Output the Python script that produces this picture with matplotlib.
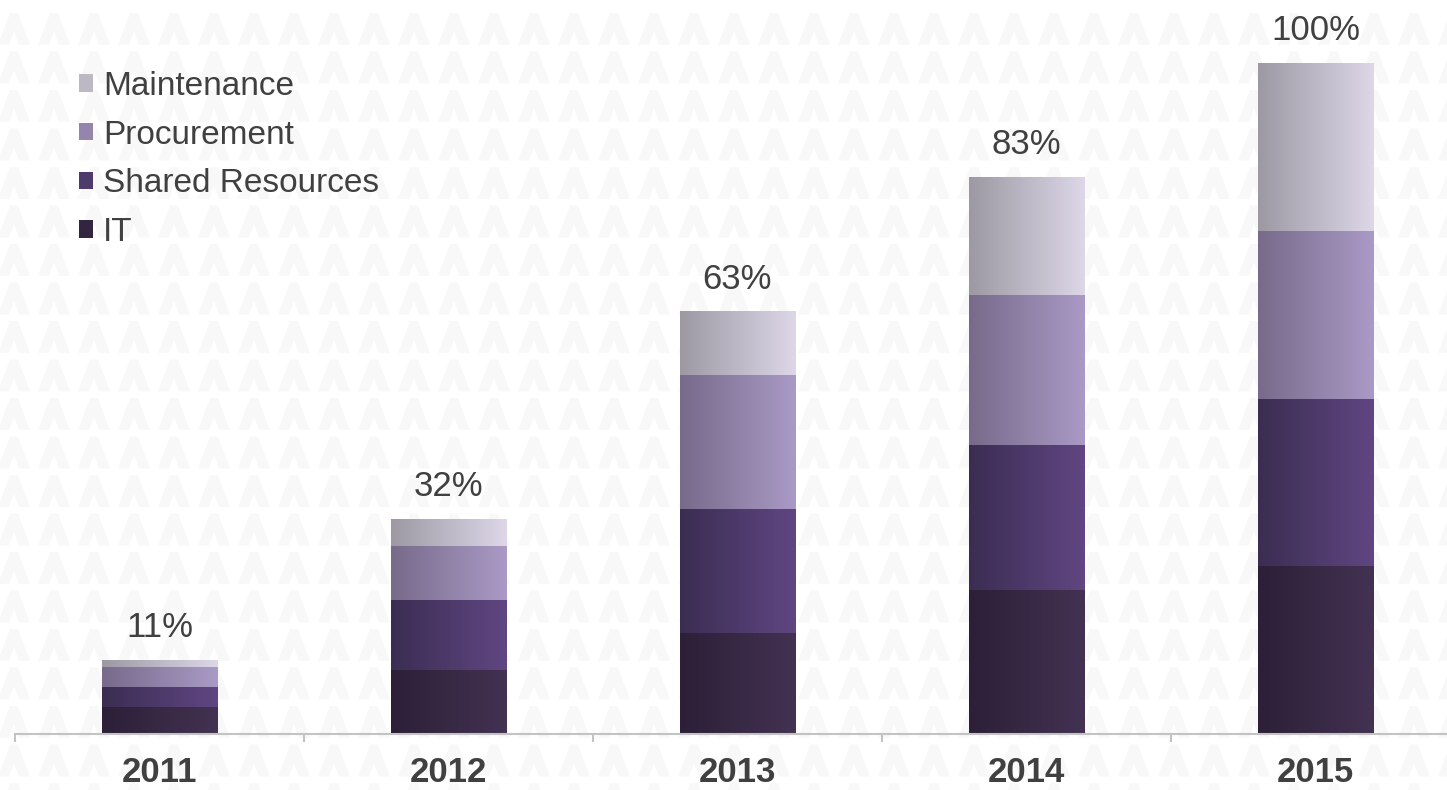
import matplotlib.pyplot as plt
import numpy as np
from matplotlib.colors import LinearSegmentedColormap
from matplotlib.patches import Patch, Polygon
from matplotlib.collections import PatchCollection

plt.rcParams['font.family'] = ['Liberation Sans', 'DejaVu Sans']

years = ["2011", "2012", "2013", "2014", "2015"]
it = [4, 9.5, 15, 21.5, 25]
shared = [3, 10.5, 18.5, 21.5, 25]
procurement = [3, 8, 20, 22.5, 25]
maintenance = [1, 4, 9.5, 17.5, 25]

series = [("IT", it), ("Shared Resources", shared),
          ("Procurement", procurement), ("Maintenance", maintenance)]
# left -> right shading for each segment
shades = {
    "IT": ("#2c1f37", "#433252"),
    "Shared Resources": ("#3b2d52", "#604682"),
    "Procurement": ("#776a8a", "#aa9ac6"),
    "Maintenance": ("#9c99a3", "#ddd7e8"),
}
legend_cols = {
    "IT": "#33253f",
    "Shared Resources": "#4f3a6c",
    "Procurement": "#9585ac",
    "Maintenance": "#bdb9c4",
}

fig = plt.figure(figsize=(14.47, 7.90), dpi=100)

# faint chevron wallpaper behind everything
bg = fig.add_axes([0, 0, 1, 1], zorder=-1)
bg.set_xlim(0, 1447)
bg.set_ylim(790, 0)
bg.axis("off")
shape = np.array([[0, 0], [0.38, 1], [0.62, 1], [1, 0], [0.66, 0],
                  [0.5, 0.42], [0.34, 0]])
polys = []
for row in range(21):
    for col in range(37):
        x0 = col * 40 - 2
        y0 = row * 38.5 + 45
        pts = np.column_stack([x0 + shape[:, 0] * 32, y0 - shape[:, 1] * 32])
        polys.append(Polygon(pts))
bg.add_collection(PatchCollection(polys, facecolor="#f8f8f8", edgecolor="none"))

ax = fig.add_axes([15 / 1447, 56 / 790, 1445 / 1447, 734 / 790])
ax.patch.set_alpha(0)

x = np.arange(len(years))
width = 0.4
bottom = np.zeros(len(years))
grad = np.linspace(0, 1, 256).reshape(1, -1)
for name, vals in series:
    cmap = LinearSegmentedColormap.from_list(name, shades[name])
    bars = ax.bar(x, vals, width, bottom=bottom, facecolor="none",
                  edgecolor="none", label=name)
    for b in bars:
        x0, y0 = b.get_x(), b.get_y()
        im = ax.imshow(grad, cmap=cmap, aspect="auto", zorder=2,
                       extent=[x0, x0 + b.get_width(), y0, y0 + b.get_height()])
        im.set_clip_path(b)
    bottom += np.array(vals)

totals = bottom
for xi, t in zip(x, totals):
    ax.text(xi, t + 3.4, f"{t:.0f}%", ha="center", va="baseline",
            fontsize=25, color="#404040")

ax.set_xlim(-0.5, len(years) - 0.5)
ax.set_ylim(0, 109.4)

for s in ["top", "right", "left"]:
    ax.spines[s].set_visible(False)
ax.spines["bottom"].set_color("#c3c3c3")
ax.spines["bottom"].set_linewidth(1.5)
ax.set_yticks([])
ax.set_xticks(x)
ax.set_xticklabels(years, fontsize=25, fontweight="bold", color="#404040")
ax.tick_params(axis="x", which="major", length=0, pad=16)
ax.set_xticks(np.arange(-0.5, len(years)), minor=True)
ax.tick_params(axis="x", which="minor", length=6, width=1.5, color="#c3c3c3")

handles = [Patch(facecolor=legend_cols[n], label=n) for n, _ in reversed(series)]
leg = ax.legend(handles=handles, loc="upper left", bbox_to_anchor=(79 / 1447, 1 - 71 / 790),
                bbox_transform=fig.transFigure, frameon=False, fontsize=24,
                handlelength=0.42, handleheight=0.42, handletextpad=0.3,
                labelspacing=0.53, borderpad=0, borderaxespad=0)
for t in leg.get_texts():
    t.set_color("#404040")

fig.savefig("out.png", dpi=100)
